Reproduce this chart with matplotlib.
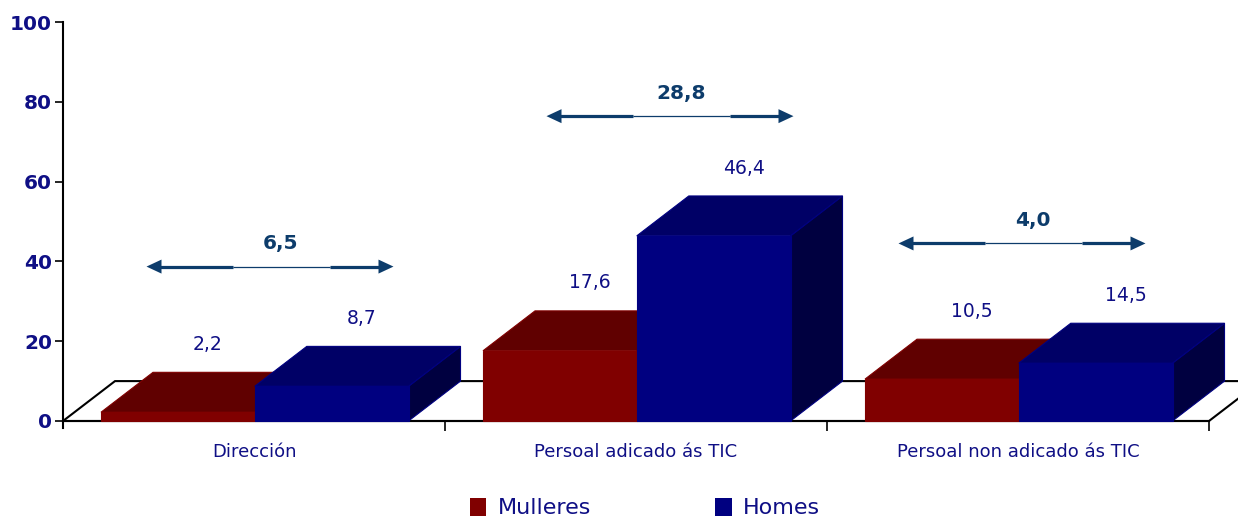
import matplotlib
matplotlib.use("Agg")
import matplotlib.pyplot as plt
from matplotlib.patches import Polygon, Patch

# ---------------- data ----------------
categories = ["Dirección", "Persoal adicado ás TIC", "Persoal non adicado ás TIC"]
series_names = ["Mulleres", "Homes"]
mulleres = [2.2, 17.6, 10.5]
homes = [8.7, 46.4, 14.5]
y_ticks = [0, 20, 40, 60, 80, 100]

# ---------------- style / layout ----------------
W, H = 1238, 521
RED_FRONT, RED_TOP, RED_SIDE = "#800000", "#600000", "#400000"
BLUE_FRONT, BLUE_TOP, BLUE_SIDE = "#000080", "#000066", "#000040"
NAVY = "#0f0f85"
ARROW_C = "#0d3c6b"
PX_X, PX_Y = 1 / 382, 100 / 399   # pixel -> data units
DX, DY = 52 * PX_X, 10.0          # depth offset (category units, value units)
BAR_L, BAR_W = 0.0995, 0.4025     # left start of red bar, bar width
arrow_shift = [16 * PX_X, 34 * PX_X, 4 * PX_X]  # arrow centre offset per group
ARROW_LEN = 247 * PX_X
GAP_SHIFT, GAP_LEN = 11 * PX_X, 97 * PX_X
HEAD_L, HEAD_HW = 15 * PX_X, 7 * PX_Y

def fmt(v):
    return f"{v:.1f}".replace(".", ",")

fig = plt.figure(figsize=(W / 100, H / 100), dpi=100)
ax = fig.add_axes([63 / W, 100 / H, 1146 / W, 399 / H])
ax.set_xlim(0, 3)
ax.set_ylim(0, 100)

for s in ["top", "right"]:
    ax.spines[s].set_visible(False)
ax.spines["left"].set_linewidth(1.5)
ax.spines["bottom"].set_linewidth(1.5)
ax.spines["left"].set_bounds(-1.8, 100)

ax.set_yticks(y_ticks)
ax.set_yticklabels([str(t) for t in y_ticks], fontsize=14.5, fontweight="bold", color=NAVY)
ax.tick_params(axis="y", length=6, width=1.2, pad=2)

ax.set_xticks([0.5, 1.5, 2.5])
ax.set_xticklabels(categories, fontsize=13, color=NAVY)
ax.tick_params(axis="x", which="major", length=0, pad=16)
ax.set_xticks([1, 2, 3], minor=True)
ax.tick_params(axis="x", which="minor", length=7, width=1.2)

# floor
floor = Polygon([(0, 0), (3, 0), (3 + DX, DY), (DX, DY)], closed=True,
                facecolor="white", edgecolor="black", lw=1.5, zorder=1, clip_on=False)
ax.add_patch(floor)


def bar3d(x0, v, front, top, side):
    x1 = x0 + BAR_W
    ax.add_patch(Polygon([(x1, 0), (x1 + DX, DY), (x1 + DX, v + DY), (x1, v)],
                         closed=True, facecolor=side, edgecolor=front, lw=0.8,
                         zorder=3, clip_on=False))
    ax.add_patch(Polygon([(x0, v), (x1, v), (x1 + DX, v + DY), (x0 + DX, v + DY)],
                         closed=True, facecolor=top, edgecolor=front, lw=0.8,
                         zorder=3, clip_on=False))
    ax.add_patch(Polygon([(x0, 0), (x1, 0), (x1, v), (x0, v)],
                         closed=True, facecolor=front, edgecolor=front, lw=0.8,
                         zorder=3, clip_on=False))
    ax.text(x0 + BAR_W / 2 + DX / 2 + 4 * PX_X, v + DY + 7.0, fmt(v), ha="center",
            va="center", fontsize=13.5, color=NAVY, zorder=5)


for i in range(len(categories)):
    bar3d(i + BAR_L, mulleres[i], RED_FRONT, RED_TOP, RED_SIDE)
    bar3d(i + BAR_L + BAR_W, homes[i], BLUE_FRONT, BLUE_TOP, BLUE_SIDE)

    # difference arrow
    diff = homes[i] - mulleres[i]
    ya = max(homes[i], mulleres[i]) + 30
    xc = i + 0.5 + arrow_shift[i]
    xa, xb = xc - ARROW_LEN / 2, xc + ARROW_LEN / 2
    g0 = xc + GAP_SHIFT - GAP_LEN / 2
    g1 = xc + GAP_SHIFT + GAP_LEN / 2
    ax.plot([g0, g1], [ya, ya], color=ARROW_C, lw=0.9, zorder=4, solid_capstyle="butt")
    ax.plot([xa + HEAD_L * 0.8, g0], [ya, ya], color=ARROW_C, lw=2.3, zorder=4,
            solid_capstyle="butt")
    ax.plot([g1, xb - HEAD_L * 0.8], [ya, ya], color=ARROW_C, lw=2.3, zorder=4,
            solid_capstyle="butt")
    ax.add_patch(Polygon([(xa, ya), (xa + HEAD_L, ya + HEAD_HW), (xa + HEAD_L, ya - HEAD_HW)],
                         closed=True, facecolor=ARROW_C, edgecolor="none", zorder=4))
    ax.add_patch(Polygon([(xb, ya), (xb - HEAD_L, ya + HEAD_HW), (xb - HEAD_L, ya - HEAD_HW)],
                         closed=True, facecolor=ARROW_C, edgecolor="none", zorder=4))
    ax.text(xc + GAP_SHIFT, ya + 5.8, fmt(diff), ha="center", va="center",
            fontsize=14.5, fontweight="bold", color=ARROW_C, zorder=5)

handles = [Patch(facecolor=RED_FRONT, edgecolor="none", label=series_names[0]),
           Patch(facecolor=BLUE_FRONT, edgecolor="none", label=series_names[1])]
leg = fig.legend(handles=handles, loc="center", bbox_to_anchor=(645 / W, 13 / H),
                 ncol=2, frameon=False, fontsize=16, handlelength=0.75,
                 handleheight=0.9, handletextpad=0.5, columnspacing=5.6)
for t in leg.get_texts():
    t.set_color(NAVY)

fig.savefig("out.png", dpi=100)
